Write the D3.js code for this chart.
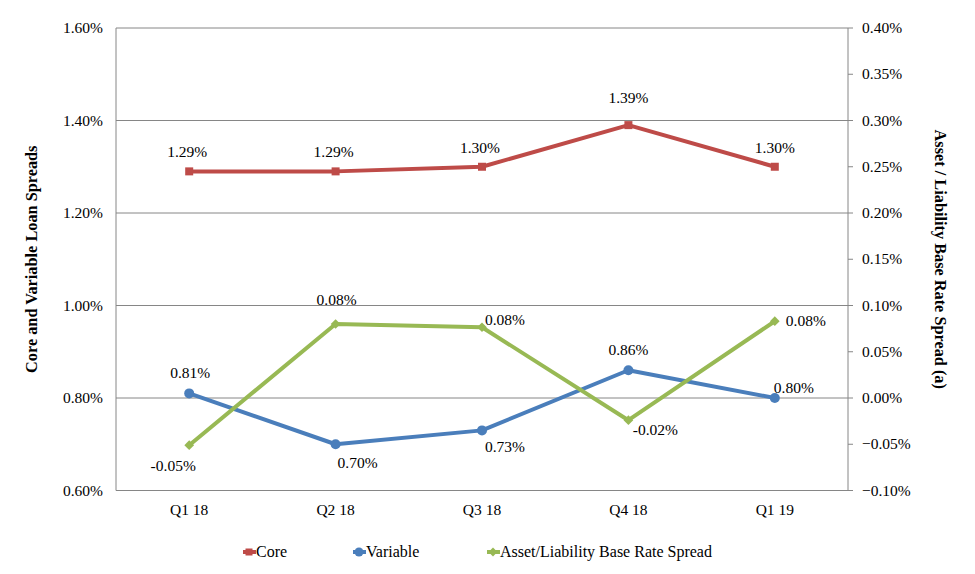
<!DOCTYPE html>
<html><head><meta charset="utf-8">
<script src="https://cdn.jsdelivr.net/npm/d3@7"></script>
<style>body{margin:0;background:#fff}svg{display:block}</style>
</head><body><svg id="c" width="975" height="574" font-family="'Liberation Serif', 'DejaVu Serif', serif"></svg>
<script>
const categories = ["Q1 18","Q2 18","Q3 18","Q4 18","Q1 19"];
const coreValues = [1.29,1.29,1.30,1.39,1.30];
const variableValues = [0.81,0.70,0.73,0.86,0.80];
const spreadValues = [-0.051,0.080,0.0765,-0.024,0.083];
const spreadLabels = ["-0.05%","0.08%","0.08%","-0.02%","0.08%"];
const leftTicks = [0.6,0.8,1.0,1.2,1.4,1.6];
const rightTicks = [-0.10,-0.05,0,0.05,0.10,0.15,0.20,0.25,0.30,0.35,0.40];
const seriesNames = ["Core","Variable","Asset/Liability Base Rate Spread"];

const svg = d3.select("#c");
const L=116,R=848,T=28,B=490.5;
const x = d3.scaleBand().domain(categories).range([L,R]);
const yL = d3.scaleLinear().domain([0.6,1.6]).range([B,T]);
const yR = d3.scaleLinear().domain([-0.10,0.40]).range([B,T]);
const grid="#868686";
const colors={core:"#BE4B48",variable:"#4A7EBB",spread:"#98B954"};
const cx = c => x(c)+x.bandwidth()/2;
const FS=15.5;

svg.append("g").selectAll("line").data(leftTicks).join("line")
  .attr("x1",L).attr("x2",R).attr("y1",d=>yL(d)).attr("y2",d=>yL(d))
  .attr("stroke",grid).attr("stroke-width",1);
svg.append("line").attr("x1",L).attr("x2",L).attr("y1",T).attr("y2",B).attr("stroke",grid);
svg.append("line").attr("x1",R).attr("x2",R).attr("y1",T).attr("y2",B).attr("stroke",grid);
svg.append("g").selectAll("line").data(rightTicks).join("line")
  .attr("x1",R).attr("x2",R+5).attr("y1",d=>yR(d)).attr("y2",d=>yR(d)).attr("stroke",grid);

svg.append("g").selectAll("text").data(leftTicks).join("text")
  .attr("x",103).attr("y",d=>yL(d)+5).attr("text-anchor","end").attr("font-size",FS)
  .text(d=>d3.format(".2f")(d)+"%");
svg.append("g").selectAll("text").data(rightTicks).join("text")
  .attr("x",862).attr("y",d=>yR(d)+5).attr("text-anchor","start").attr("font-size",FS)
  .text(d=>d3.format(".2f")(d)+"%");
svg.append("g").selectAll("text").data(categories).join("text")
  .attr("x",d=>cx(d)).attr("y",515).attr("text-anchor","middle").attr("font-size",FS)
  .text(d=>d);

svg.append("text").attr("transform",`translate(37,${(T+B)/2}) rotate(-90)`)
  .attr("text-anchor","middle").attr("font-size",16.3).attr("font-weight","bold")
  .text("Core and Variable Loan Spreads");
svg.append("text").attr("transform",`translate(935,${(T+B)/2}) rotate(90)`)
  .attr("text-anchor","middle").attr("font-size",16.3).attr("font-weight","bold")
  .text("Asset / Liability Base Rate Spread (a)");

const line = (y)=>d3.line().x((d,i)=>cx(categories[i])).y(d=>y(d));
function drawSeries(vals,y,color){
  svg.append("path").datum(vals).attr("d",line(y)).attr("fill","none")
    .attr("stroke",color).attr("stroke-width",4).attr("stroke-linejoin","round");
}
drawSeries(variableValues,yL,colors.variable);
drawSeries(coreValues,yL,colors.core);
drawSeries(spreadValues,yR,colors.spread);

svg.append("g").selectAll("rect").data(coreValues).join("rect")
  .attr("x",(d,i)=>cx(categories[i])-4).attr("y",d=>yL(d)-4).attr("width",8).attr("height",8)
  .attr("fill",colors.core);
svg.append("g").selectAll("circle").data(variableValues).join("circle")
  .attr("cx",(d,i)=>cx(categories[i])).attr("cy",d=>yL(d)).attr("r",5)
  .attr("fill",colors.variable);
const diamond = d3.symbol().type(d3.symbolDiamond2).size(60);
svg.append("g").selectAll("path").data(spreadValues).join("path")
  .attr("d",diamond).attr("transform",(d,i)=>`translate(${cx(categories[i])},${yR(d)})`)
  .attr("fill",colors.spread);

const coreOff=[[-2,-19],[-2,-19],[-2,-19],[0,-27],[0,-19]];
svg.append("g").selectAll("text").data(coreValues).join("text")
  .attr("x",(d,i)=>cx(categories[i])+coreOff[i][0]).attr("y",(d,i)=>yL(d)+coreOff[i][1]+5)
  .attr("text-anchor","middle").attr("font-size",FS).text(d=>d3.format(".2f")(d)+"%");
const varOff=[[1,-20],[22,19],[23,17],[0,-20],[19,-10]];
svg.append("g").selectAll("text").data(variableValues).join("text")
  .attr("x",(d,i)=>cx(categories[i])+varOff[i][0]).attr("y",(d,i)=>yL(d)+varOff[i][1]+5)
  .attr("text-anchor","middle").attr("font-size",FS).text(d=>d3.format(".2f")(d)+"%");
const sprOff=[[-16,21],[1,-24],[23,-7],[27,10],[31,0]];
svg.append("g").selectAll("text").data(spreadValues).join("text")
  .attr("x",(d,i)=>cx(categories[i])+sprOff[i][0]).attr("y",(d,i)=>yR(d)+sprOff[i][1]+5)
  .attr("text-anchor","middle").attr("font-size",FS).text((d,i)=>spreadLabels[i]);

const legX=[256,366,500];
const legColors=[colors.core,colors.variable,colors.spread];
const lg=svg.append("g");
seriesNames.forEach((n,i)=>{
  const g=lg.append("g");
  g.append("line").attr("x1",legX[i]-13).attr("x2",legX[i]).attr("y1",552).attr("y2",552)
    .attr("stroke",legColors[i]).attr("stroke-width",4);
  if(i===0) g.append("rect").attr("x",legX[i]-10.5).attr("y",548.5).attr("width",7).attr("height",7).attr("fill",legColors[i]);
  else if(i===1) g.append("circle").attr("cx",legX[i]-7).attr("cy",552).attr("r",4.5).attr("fill",legColors[i]);
  else g.append("path").attr("d",d3.symbol().type(d3.symbolDiamond2).size(50)).attr("transform",`translate(${legX[i]-7},552)`).attr("fill",legColors[i]);
  g.append("text").attr("x",legX[i]).attr("y",557).attr("font-size",16).text(n);
});
</script></body></html>
